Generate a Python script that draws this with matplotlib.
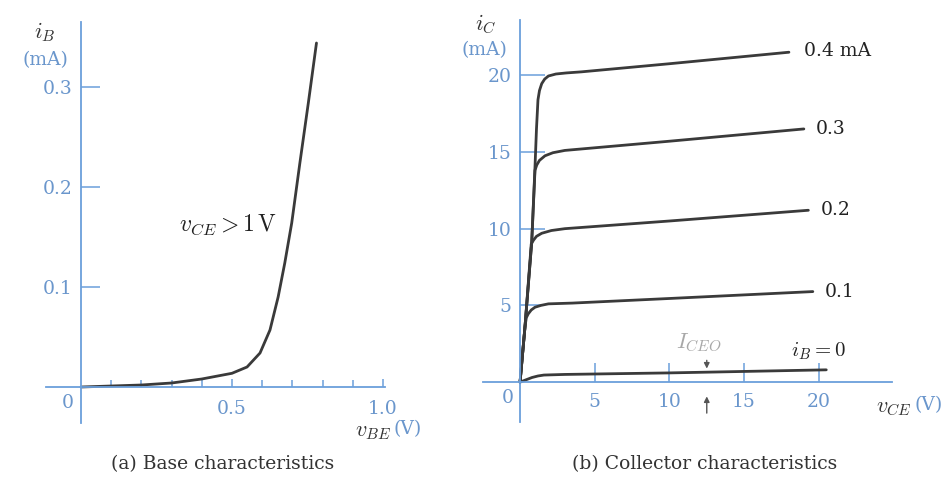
import matplotlib
matplotlib.use("Agg")
import matplotlib.pyplot as plt
from matplotlib.ticker import FixedLocator, NullFormatter

plt.rcParams['font.family'] = ['DejaVu Serif']
plt.rcParams['mathtext.fontset'] = 'cm'

# ---------------- data ----------------
# (a) base characteristics
vbe = [0.0, 0.1, 0.2, 0.3, 0.4, 0.5, 0.55, 0.593, 0.626, 0.653, 0.675, 0.698, 0.725, 0.753, 0.78]
ib = [0.0, 0.001, 0.002, 0.004, 0.008, 0.0137, 0.020, 0.034, 0.057, 0.090, 0.124, 0.164, 0.224, 0.284, 0.344]
a_xticks_major = [0.5, 1.0]
a_xticks_minor = [0.1, 0.2, 0.3, 0.4, 0.6, 0.7, 0.8, 0.9]
a_yticks = [0.1, 0.2, 0.3]

# (b) collector characteristics (vce in V, ic in mA), one curve per base current
ib_labels = ["0.4 mA", "0.3", "0.2", "0.1", "$i_B = 0$"]
vce_04 = [0.0, 0.33, 0.78, 1.0, 1.1, 1.2, 1.3, 1.45, 1.65, 1.9, 2.4, 3.1, 4.1, 10.0, 18.0]
ic_04 = [0.0, 3.6, 9.1, 14.0, 16.5, 18.4, 19.0, 19.45, 19.75, 19.95, 20.08, 20.15, 20.22, 20.75, 21.5]
vce_03 = [0.0, 0.33, 0.78, 1.0, 1.12, 1.3, 1.67, 2.2, 3.0, 10.0, 19.0]
ic_03 = [0.0, 3.6, 9.1, 13.8, 14.15, 14.45, 14.75, 14.95, 15.1, 15.7, 16.5]
vce_02 = [0.0, 0.33, 0.75, 0.9, 1.1, 1.45, 2.1, 3.0, 10.0, 19.3]
ic_02 = [0.0, 3.6, 9.0, 9.25, 9.5, 9.7, 9.88, 10.0, 10.5, 11.2]
vce_01 = [0.0, 0.33, 0.42, 0.55, 0.75, 1.0, 1.4, 1.9, 3.5, 10.0, 19.6]
ic_01 = [0.0, 3.6, 4.2, 4.45, 4.7, 4.88, 5.0, 5.1, 5.15, 5.45, 5.9]
vce_00 = [0.0, 0.4, 0.8, 1.2, 1.6, 3.0, 10.0, 20.5]
ic_00 = [0.0, 0.15, 0.3, 0.4, 0.46, 0.5, 0.6, 0.8]
b_xticks = [5, 10, 15, 20]
b_yticks = [5, 10, 15, 20]
iceo_vce = 12.5

AXC = '#6b9fdb'
TXC = '#6a96cc'
CRV = '#3a3a3a'
W, H = 946, 486

fig = plt.figure(figsize=(W / 100, H / 100), dpi=100)
fig.patch.set_facecolor('white')


def px_axes(x0, y0, x1, y1):
    return fig.add_axes([x0 / W, 1 - y1 / H, (x1 - x0) / W, (y1 - y0) / H])


def style(ax):
    for s in ['top', 'right']:
        ax.spines[s].set_visible(False)
    for s in ['left', 'bottom']:
        ax.spines[s].set_position(('data', 0))
        ax.spines[s].set_color(AXC)
        ax.spines[s].set_linewidth(1.3)
    ax.patch.set_alpha(0)


# ---------------- (a) ----------------
ax1 = px_axes(46, 22, 385, 423)
ax1.set_xlim(-0.116, 1.007)
ax1.set_ylim(-0.036, 0.365)
style(ax1)
ax1.plot(vbe, ib, color=CRV, lw=2.0, solid_capstyle='round', solid_joinstyle='round')
ax1.xaxis.set_major_locator(FixedLocator(a_xticks_major))
ax1.xaxis.set_minor_locator(FixedLocator(a_xticks_minor))
ax1.xaxis.set_minor_formatter(NullFormatter())
ax1.set_xticklabels(['0.5', '1.0'])
ax1.yaxis.set_major_locator(FixedLocator(a_yticks))
ax1.set_yticklabels(['0.1', '0.2', '0.3'])
ax1.tick_params(axis='x', which='major', direction='in', length=6, width=1.1,
                color=AXC, labelcolor=TXC, labelsize=13.5, pad=9)
ax1.tick_params(axis='x', which='minor', direction='in', length=5, width=1.1, color=AXC)
ax1.tick_params(axis='y', which='major', direction='in', length=14, width=1.1,
                color=AXC, labelcolor=TXC, labelsize=13.5, pad=6)
ax1.text(-0.045, -0.016, '0', color=TXC, fontsize=13.5, ha='center', va='center')
ax1.text(0.487, 0.162, r'$v_{CE} > 1\,\mathrm{V}$', color='#222222', fontsize=17,
         ha='center', va='center')
fig.text(45 / W, 1 - 32 / H, r'$i_B$', color='#333333', fontsize=16, ha='center', va='center')
fig.text(45 / W, 1 - 60 / H, '(mA)', color=TXC, fontsize=13.5, ha='center', va='center')
fig.text(391 / W, 1 - 431 / H, r'$v_{BE}$', color='#333333', fontsize=16, ha='right', va='center')
fig.text(393 / W, 1 - 429 / H, '(V)', color=TXC, fontsize=13.5, ha='left', va='center')
fig.text(223 / W, 1 - 464 / H, '(a) Base characteristics', color='#333333',
         fontsize=13.5, ha='center', va='center')

# ---------------- (b) ----------------
ax2 = px_axes(483, 20, 892, 422)
ax2.set_xlim(-2.48, 24.9)
ax2.set_ylim(-2.6, 23.6)
style(ax2)
curves = [(vce_04, ic_04), (vce_03, ic_03), (vce_02, ic_02), (vce_01, ic_01), (vce_00, ic_00)]
for (vx, iy) in curves:
    ax2.plot(vx, iy, color=CRV, lw=2.0, solid_capstyle='round', solid_joinstyle='round')
lab_off = [(1.0, 0.1), (0.8, 0.0), (0.8, 0.0), (0.8, 0.0), (-0.5, 1.2)]
for (vx, iy), lab, (dx, dy) in zip(curves, ib_labels, lab_off):
    ax2.text(vx[-1] + dx, iy[-1] + dy, lab, color='#222222', fontsize=13.5 if dy < 1 else 15,
             ha='left' if dy < 1 else 'center', va='center')
ax2.xaxis.set_major_locator(FixedLocator(b_xticks))
ax2.set_xticklabels([str(v) for v in b_xticks])
ax2.yaxis.set_major_locator(FixedLocator(b_yticks))
ax2.set_yticklabels([str(v) for v in b_yticks])
ax2.tick_params(axis='x', which='major', direction='in', length=14, width=1.1,
                color=AXC, labelcolor=TXC, labelsize=13.5, pad=8)
ax2.tick_params(axis='y', which='major', direction='in', length=18, width=1.1,
                color=AXC, labelcolor=TXC, labelsize=13.5, pad=6)
ax2.text(-0.8, -1.05, '0', color=TXC, fontsize=13.5, ha='center', va='center')
ax2.text(12.0, 2.55, r'$I_{CEO}$', color='#a8a8a8', fontsize=16, ha='center', va='center')
ax2.annotate('', xy=(iceo_vce, 0.7), xytext=(iceo_vce, 1.6),
             arrowprops=dict(arrowstyle='-|>', color='#555555', lw=1.0, mutation_scale=8))
ax2.annotate('', xy=(iceo_vce, -0.75), xytext=(iceo_vce, -2.2),
             arrowprops=dict(arrowstyle='-|>', color='#555555', lw=1.0, mutation_scale=8))
fig.text(486 / W, 1 - 24 / H, r'$i_C$', color='#333333', fontsize=16, ha='center', va='center')
fig.text(484 / W, 1 - 50 / H, '(mA)', color=TXC, fontsize=13.5, ha='center', va='center')
fig.text(912 / W, 1 - 407 / H, r'$v_{CE}$', color='#333333', fontsize=16, ha='right', va='center')
fig.text(914 / W, 1 - 405 / H, '(V)', color=TXC, fontsize=13.5, ha='left', va='center')
fig.text(705 / W, 1 - 464 / H, '(b) Collector characteristics', color='#333333',
         fontsize=13.5, ha='center', va='center')

fig.savefig('out.png', dpi=100, facecolor='white')
